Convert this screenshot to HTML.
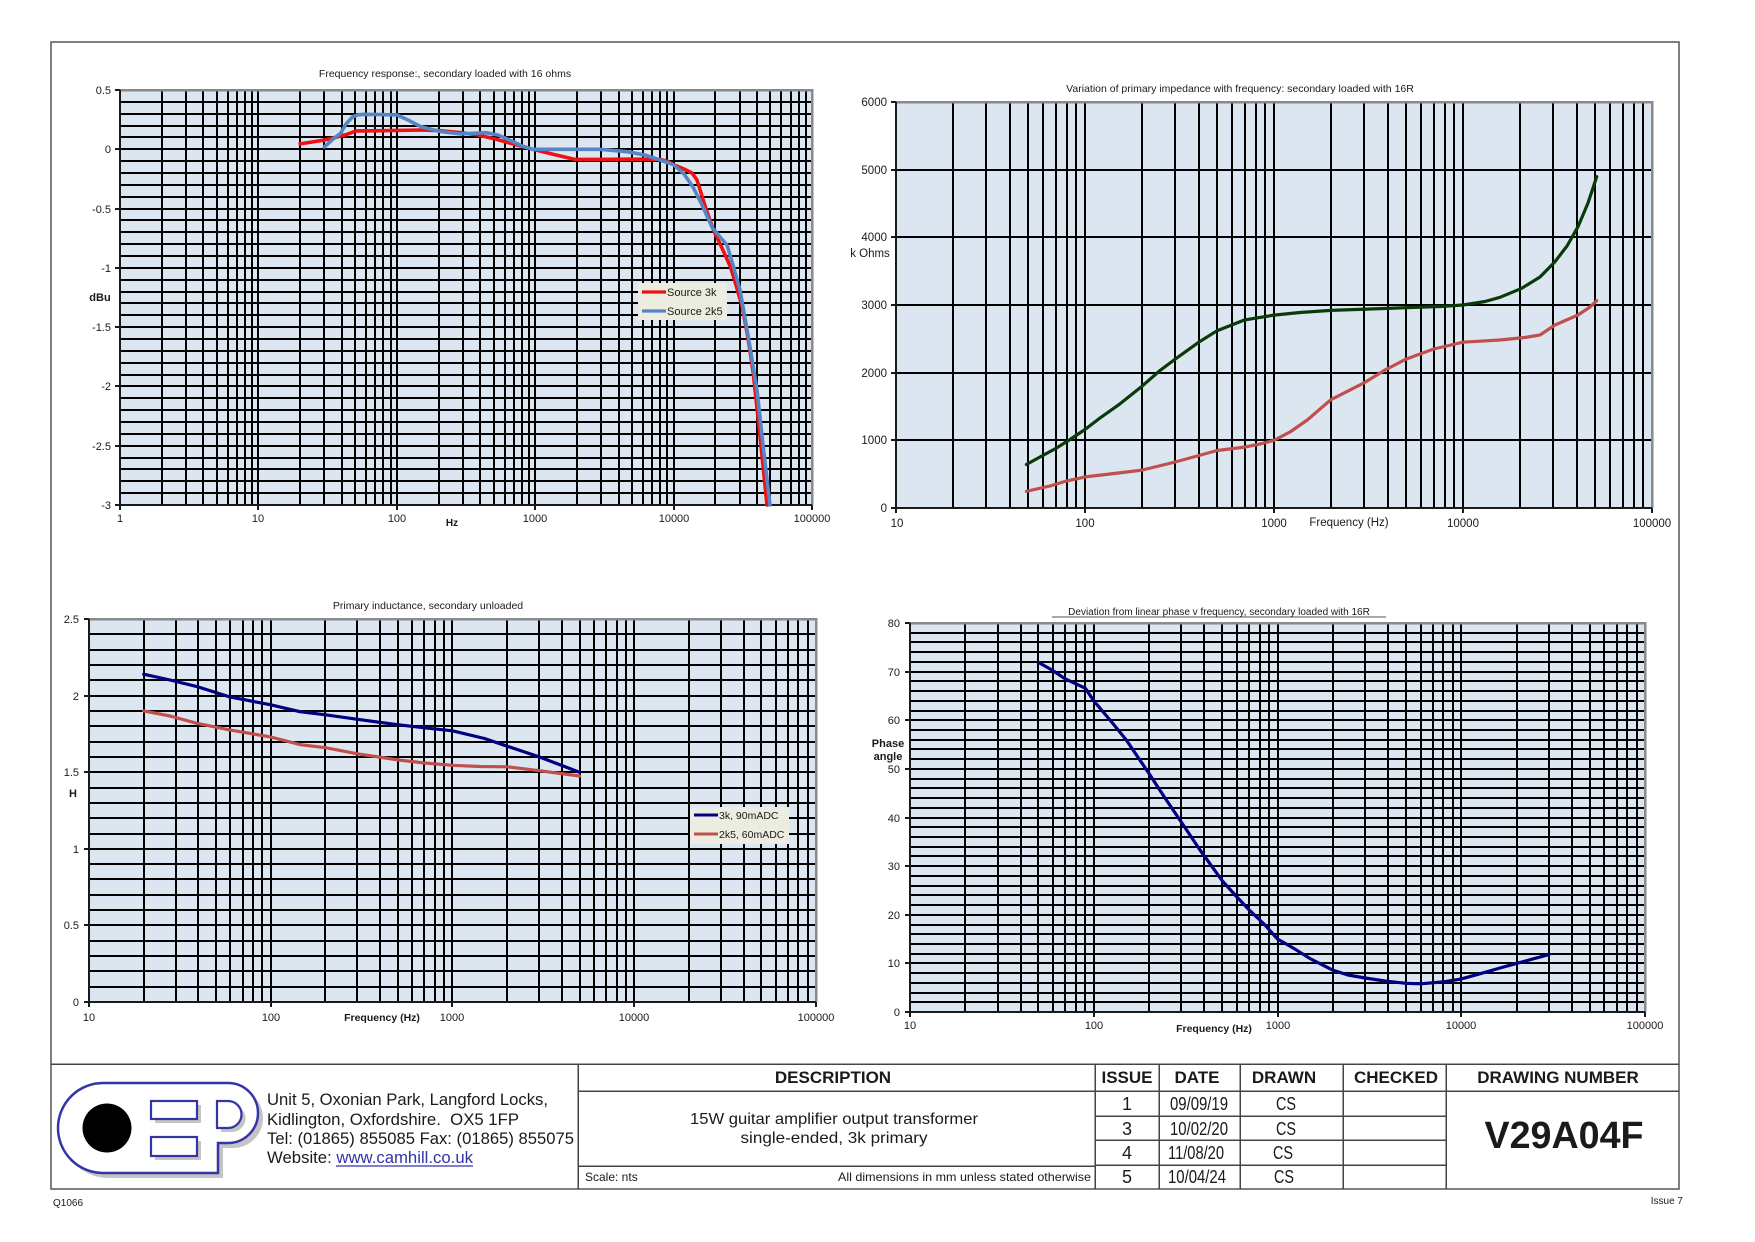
<!DOCTYPE html>
<html><head><meta charset="utf-8"><style>
html,body{margin:0;padding:0;background:#fff;}
svg{display:block;}
text{font-family:"Liberation Sans",Arial,sans-serif;fill:#1a1a1a;}
.t{font-size:11px;}
.ti{font-size:10.5px;}
.b{font-weight:bold;}
.g{stroke:#000;stroke-width:2;fill:none;shape-rendering:crispEdges;}
.ax{stroke:#1a1a1a;stroke-width:2;fill:none;shape-rendering:crispEdges;}
.bd{stroke:#8a8a8a;stroke-width:2.5;fill:none;shape-rendering:crispEdges;}
.tb{stroke:#444;stroke-width:1.5;fill:none;shape-rendering:crispEdges;}
.s{fill:none;stroke-linejoin:round;stroke-linecap:round;}
</style></head><body>
<svg width="1755" height="1242" viewBox="0 0 1755 1242" xmlns="http://www.w3.org/2000/svg">
<rect x="0" y="0" width="1755" height="1242" fill="#fff"/>
<!-- page border -->
<rect x="51" y="42" width="1628" height="1147" fill="none" stroke="#555" stroke-width="1.5"/>

<!-- ================= CHART 1 ================= -->
<text class="ti" x="445" y="77" text-anchor="middle">Frequency response:, secondary loaded with 16 ohms</text>
<rect x="120" y="90" width="692" height="415" fill="#dce6f1"/>
<path class="g" d="M162 90V505M186 90V505M203 90V505M217 90V505M228 90V505M237 90V505M245 90V505M252 90V505M258 90V505M300 90V505M324 90V505M342 90V505M355 90V505M366 90V505M375 90V505M383 90V505M391 90V505M397 90V505M439 90V505M463 90V505M480 90V505M494 90V505M505 90V505M514 90V505M522 90V505M529 90V505M535 90V505M577 90V505M601 90V505M619 90V505M632 90V505M643 90V505M652 90V505M660 90V505M667 90V505M674 90V505M715 90V505M740 90V505M757 90V505M770 90V505M781 90V505M791 90V505M799 90V505M806 90V505"/>
<path class="g" d="M120 102H812M120 114H812M120 126H812M120 137H812M120 149H812M120 161H812M120 173H812M120 185H812M120 197H812M120 209H812M120 220H812M120 232H812M120 244H812M120 256H812M120 268H812M120 280H812M120 292H812M120 303H812M120 315H812M120 327H812M120 339H812M120 351H812M120 363H812M120 375H812M120 386H812M120 398H812M120 410H812M120 422H812M120 434H812M120 446H812M120 458H812M120 469H812M120 481H812M120 493H812"/>
<path class="bd" d="M120 90H812V505"/>
<path class="ax" d="M120 90V505H812M115 90H120M115 149H120M115 209H120M115 268H120M115 327H120M115 386H120M115 446H120M115 505H120M120 505V510M258 505V510M397 505V510M535 505V510M674 505V510M812 505V510"/>
<g class="t" text-anchor="end">
<text x="111" y="94">0.5</text><text x="111" y="153">0</text><text x="111" y="213">-0.5</text><text x="111" y="272">-1</text><text x="111" y="331">-1.5</text><text x="111" y="390">-2</text><text x="111" y="450">-2.5</text><text x="111" y="509">-3</text>
</g>
<text class="t b" x="100" y="301" text-anchor="middle">dBu</text>
<g class="t" text-anchor="middle">
<text x="120" y="522">1</text><text x="258" y="522">10</text><text x="397" y="522">100</text><text x="535" y="522">1000</text><text x="674" y="522">10000</text><text x="812" y="522">100000</text>
</g>
<text class="t b" x="452" y="526" text-anchor="middle" style="font-size:10px">Hz</text>
<polyline class="s" stroke="#ee1111" stroke-width="3.6" points="300.1,143.9 312,142 325.7,139.8 344.7,135.1 356.3,130.9 382.6,130.7 421.2,130 440,130.7 460,132.5 478.8,135.1 498.2,139.8 515,144.5 532.7,149.3 552,154 574.6,159.4 600,159.4 630,159.2 660,159.4 668,161.5 673.6,164.7 684,169 692,173 697,180 700,189.6 706,209 713.4,229.9 722,248 730.4,266.7 736,285 742.3,307 748,338 753.3,373.4 760,436 767,505"/>
<polyline class="s" stroke="#5585c5" stroke-width="3.6" points="324.4,146.9 332,140 340.6,133.3 346,124 352.7,116.7 358,114.8 364.1,114.3 380,114.5 396.8,114.9 408,120 421.2,126.8 440,131.5 460,133.9 475,133.2 486.7,132.7 498.2,135.1 505,138 512.9,141.6 522,146 532.7,149.3 550,149.3 574.6,149.3 600,149.3 627,151.7 645,155 660,160 673.6,164.7 684,174 693,187 702,205 712,227 720,237 727,245 733,265 740,290 748,335 757,390 763,445 770,505"/>
<rect x="638" y="283" width="89" height="37" fill="#ecece0"/>
<line x1="642" y1="292" x2="666" y2="292" stroke="#ee1111" stroke-width="3.2"/>
<line x1="642" y1="311" x2="666" y2="311" stroke="#5585c5" stroke-width="3.2"/>
<text class="t" x="667" y="296">Source 3k</text>
<text class="t" x="667" y="315">Source 2k5</text>

<!-- ================= CHART 2 ================= -->
<text class="ti" x="1240" y="92" text-anchor="middle">Variation of primary impedance with frequency: secondary loaded with 16R</text>
<rect x="896" y="102" width="756" height="406" fill="#dce6f1"/>
<path class="g" d="M953 102V508M986 102V508M1010 102V508M1028 102V508M1043 102V508M1056 102V508M1067 102V508M1076 102V508M1085 102V508M1142 102V508M1175 102V508M1199 102V508M1217 102V508M1232 102V508M1245 102V508M1256 102V508M1265 102V508M1274 102V508M1331 102V508M1364 102V508M1388 102V508M1406 102V508M1421 102V508M1434 102V508M1445 102V508M1454 102V508M1463 102V508M1520 102V508M1553 102V508M1577 102V508M1595 102V508M1610 102V508M1623 102V508M1634 102V508M1643 102V508"/>
<path class="g" d="M896 170H1652M896 237H1652M896 305H1652M896 373H1652M896 440H1652"/>
<path class="bd" d="M896 102H1652V508"/>
<path class="ax" d="M896 102V508H1652M891 102H896M891 170H896M891 237H896M891 305H896M891 373H896M891 440H896M891 508H896M896 508V513M1085 508V513M1274 508V513M1463 508V513M1652 508V513"/>
<g text-anchor="end" style="font-size:11.5px">
<text x="887" y="106">6000</text><text x="887" y="174">5000</text><text x="887" y="241">4000</text><text x="887" y="309">3000</text><text x="887" y="377">2000</text><text x="887" y="444">1000</text><text x="887" y="512">0</text>
</g>
<text x="870" y="257" text-anchor="middle" style="font-size:11.5px">k Ohms</text>
<g text-anchor="middle" style="font-size:11.5px">
<text x="897" y="527">10</text><text x="1085" y="527">100</text><text x="1274" y="527">1000</text><text x="1463" y="527">10000</text><text x="1652" y="527">100000</text>
</g>
<text x="1349" y="526" text-anchor="middle" style="font-size:11.5px">Frequency (Hz)</text>
<polyline class="s" stroke="#0a3a0a" stroke-width="3.2" points="1026.4,464.5 1040,457 1055.7,448.5 1070,439.5 1085,429.5 1100,418 1118.3,405.1 1142,386.2 1160,370.5 1175.2,359.1 1198.8,342.2 1217.1,330.7 1244.7,319.9 1274,315.1 1300,312.5 1330.9,310.4 1370,309 1406.1,307.7 1440,306.5 1463,305 1485,301.5 1500,297.3 1521.7,288.3 1540,277 1555,261.7 1567,246 1578,226.7 1588,203 1596.7,176.7"/>
<polyline class="s" stroke="#c0504d" stroke-width="3.2" points="1026.4,491.3 1050,486 1066.7,480.9 1076.3,478.9 1085,476.9 1110,474 1142,470.1 1175.2,462 1217.1,450.5 1244.7,447.1 1260,444 1274,440.3 1290,432 1307.3,420 1330.9,399.7 1364.2,382.8 1385,370 1406.1,359.1 1433.7,349 1463,342.2 1500,340 1525,337.5 1540,335 1555,325 1578,315 1590,307 1596.7,300.7"/>

<!-- ================= CHART 3 ================= -->
<text class="ti" x="428" y="609" text-anchor="middle">Primary inductance, secondary unloaded</text>
<rect x="89" y="619" width="727" height="383" fill="#dce6f1"/>
<path class="g" d="M144 619V1002M176 619V1002M198 619V1002M216 619V1002M230 619V1002M243 619V1002M253 619V1002M262 619V1002M271 619V1002M325 619V1002M357 619V1002M380 619V1002M398 619V1002M412 619V1002M424 619V1002M435 619V1002M444 619V1002M452 619V1002M507 619V1002M539 619V1002M562 619V1002M580 619V1002M594 619V1002M606 619V1002M617 619V1002M626 619V1002M634 619V1002M689 619V1002M721 619V1002M744 619V1002M761 619V1002M776 619V1002M788 619V1002M798 619V1002M808 619V1002"/>
<path class="g" d="M89 987H816M89 971H816M89 956H816M89 941H816M89 925H816M89 910H816M89 895H816M89 879H816M89 864H816M89 849H816M89 834H816M89 818H816M89 803H816M89 788H816M89 772H816M89 757H816M89 742H816M89 726H816M89 711H816M89 696H816M89 680H816M89 665H816M89 650H816M89 634H816"/>
<path class="bd" d="M89 619H816V1002"/>
<path class="ax" d="M89 619V1002H816M84 619H89M84 696H89M84 772H89M84 849H89M84 925H89M84 1002H89M89 1002V1007M271 1002V1007M452 1002V1007M634 1002V1007M816 1002V1007"/>
<g class="t" text-anchor="end">
<text x="79" y="623">2.5</text><text x="79" y="700">2</text><text x="79" y="776">1.5</text><text x="79" y="853">1</text><text x="79" y="929">0.5</text><text x="79" y="1006">0</text>
</g>
<text class="t b" x="73" y="797" text-anchor="middle">H</text>
<g class="t" text-anchor="middle">
<text x="89" y="1021">10</text><text x="271" y="1021">100</text><text x="452" y="1021">1000</text><text x="634" y="1021">10000</text><text x="816" y="1021">100000</text>
</g>
<text class="b" x="382" y="1021" text-anchor="middle" style="font-size:10.5px">Frequency (Hz)</text>
<polyline class="s" stroke="#000080" stroke-width="3.2" points="143.7,674.2 170,680 196.4,686.4 230.4,697.1 270.75,704.8 300,711.7 325.5,714.8 357.5,719.3 397.8,724.7 424.4,727.8 452.5,730.8 484.5,738.5 507.2,746.2 539.2,756.9 579.5,772.2"/>
<polyline class="s" stroke="#c0504d" stroke-width="3.2" points="143.7,710.9 170,716 196.4,723.2 230.4,730.1 270.75,737 300,744.6 325.5,747.7 357.5,753.8 397.8,759.9 424.4,763 452.5,765.3 480,766.5 507.2,766.8 539.2,770.7 579.5,776"/>
<rect x="690" y="807" width="99" height="37" fill="#ecece0"/>
<line x1="694" y1="815" x2="718" y2="815" stroke="#000080" stroke-width="3"/>
<line x1="694" y1="834" x2="718" y2="834" stroke="#c0504d" stroke-width="3"/>
<text x="719" y="819" style="font-size:10.5px">3k, 90mADC</text>
<text x="719" y="838" style="font-size:10.5px">2k5, 60mADC</text>

<!-- ================= CHART 4 ================= -->
<text x="1219" y="615" text-anchor="middle" style="font-size:10px">Deviation from linear phase v frequency, secondary loaded with 16R</text>
<line x1="1052" y1="617" x2="1386" y2="617" stroke="#1a1a1a" stroke-width="0.8"/>
<rect x="910" y="623" width="735" height="389" fill="#dce6f1"/>
<path class="g" d="M965 623V1012M998 623V1012M1021 623V1012M1038 623V1012M1053 623V1012M1065 623V1012M1076 623V1012M1085 623V1012M1094 623V1012M1149 623V1012M1181 623V1012M1204 623V1012M1222 623V1012M1237 623V1012M1249 623V1012M1260 623V1012M1269 623V1012M1278 623V1012M1333 623V1012M1365 623V1012M1388 623V1012M1406 623V1012M1421 623V1012M1433 623V1012M1443 623V1012M1453 623V1012M1461 623V1012M1517 623V1012M1549 623V1012M1572 623V1012M1590 623V1012M1604 623V1012M1617 623V1012M1627 623V1012M1637 623V1012"/>
<path class="g" d="M910 1002H1645M910 993H1645M910 983H1645M910 973H1645M910 963H1645M910 954H1645M910 944H1645M910 934H1645M910 925H1645M910 915H1645M910 905H1645M910 895H1645M910 886H1645M910 876H1645M910 866H1645M910 856H1645M910 847H1645M910 837H1645M910 827H1645M910 818H1645M910 808H1645M910 798H1645M910 788H1645M910 779H1645M910 769H1645M910 759H1645M910 749H1645M910 740H1645M910 730H1645M910 720H1645M910 711H1645M910 701H1645M910 691H1645M910 681H1645M910 672H1645M910 662H1645M910 652H1645M910 642H1645M910 633H1645"/>
<path class="bd" d="M910 623H1645V1012"/>
<path class="ax" d="M910 623V1012H1645M905 623H910M905 672H910M905 720H910M905 769H910M905 818H910M905 866H910M905 915H910M905 963H910M905 1012H910M910 1012V1017M1094 1012V1017M1278 1012V1017M1461 1012V1017M1645 1012V1017"/>
<g class="t" text-anchor="end">
<text x="900" y="627">80</text><text x="900" y="676">70</text><text x="900" y="724">60</text><text x="900" y="773">50</text><text x="900" y="822">40</text><text x="900" y="870">30</text><text x="900" y="919">20</text><text x="900" y="967">10</text><text x="900" y="1016">0</text>
</g>
<text class="t b" x="888" y="747" text-anchor="middle">Phase</text>
<text class="t b" x="888" y="760" text-anchor="middle">angle</text>
<g class="t" text-anchor="middle">
<text x="910" y="1029">10</text><text x="1094" y="1029">100</text><text x="1278" y="1029">1000</text><text x="1461" y="1029">10000</text><text x="1645" y="1029">100000</text>
</g>
<text class="b" x="1214" y="1032" text-anchor="middle" style="font-size:10.5px">Frequency (Hz)</text>
<polyline class="s" stroke="#000080" stroke-width="3.2" points="1038.4,662.4 1052,670 1065.3,678.9 1085.3,688.2 1093.75,700.8 1110,720 1126.1,739.7 1149.1,773.7 1165,798 1181.5,822.4 1200,850 1222.2,880.7 1236,896 1249.1,909.9 1264.5,924.5 1277.5,939 1295.3,949.3 1309.9,958.5 1332.8,970.2 1348,975 1365.2,978 1385,981 1405.9,983.3 1420.5,983.8 1443.4,981.9 1461.25,978.9 1480.7,973.6 1500,968 1516.6,963.4 1549,954.6"/>

<!-- ================= TITLE BLOCK ================= -->
<path class="tb" d="M51 1064H1679M578 1064V1189M578 1091H1679M578 1166H1095M1095 1064V1189M1159 1064V1189M1240 1064V1189M1343 1064V1189M1446 1064V1189M1095 1116H1446M1095 1140H1446M1095 1165H1446"/>
<g class="b" text-anchor="middle" style="font-size:17px">
<text x="833" y="1083">DESCRIPTION</text>
<text x="1127" y="1083">ISSUE</text>
<text x="1197" y="1083">DATE</text>
<text x="1284" y="1083">DRAWN</text>
<text x="1396" y="1083">CHECKED</text>
<text x="1558" y="1083">DRAWING NUMBER</text>
</g>
<g text-anchor="middle" style="font-size:18px">
<text x="1127" y="1110">1</text><text x="1127" y="1135">3</text><text x="1127" y="1159">4</text><text x="1127" y="1183">5</text>
<text x="1199" y="1110" textLength="58" lengthAdjust="spacingAndGlyphs">09/09/19</text>
<text x="1199" y="1135" textLength="58" lengthAdjust="spacingAndGlyphs">10/02/20</text>
<text x="1196" y="1159" textLength="56" lengthAdjust="spacingAndGlyphs">11/08/20</text>
<text x="1197" y="1183" textLength="58" lengthAdjust="spacingAndGlyphs">10/04/24</text>
<text x="1286" y="1110" textLength="20" lengthAdjust="spacingAndGlyphs">CS</text>
<text x="1286" y="1135" textLength="20" lengthAdjust="spacingAndGlyphs">CS</text>
<text x="1283" y="1159" textLength="20" lengthAdjust="spacingAndGlyphs">CS</text>
<text x="1284" y="1183" textLength="20" lengthAdjust="spacingAndGlyphs">CS</text>
</g>
<text class="b" x="1564" y="1148" text-anchor="middle" style="font-size:38px" textLength="159" lengthAdjust="spacingAndGlyphs">V29A04F</text>
<g text-anchor="middle" style="font-size:16px">
<text x="834" y="1124" textLength="288" lengthAdjust="spacingAndGlyphs">15W guitar amplifier output transformer</text>
<text x="834" y="1143" textLength="187" lengthAdjust="spacingAndGlyphs">single-ended, 3k primary</text>
</g>
<text x="585" y="1181" style="font-size:12px">Scale: nts</text>
<text x="1091" y="1181" text-anchor="end" style="font-size:12px" textLength="253" lengthAdjust="spacingAndGlyphs">All dimensions in mm unless stated otherwise</text>

<!-- address -->
<g style="font-size:16.6px">
<text x="267" y="1105" textLength="281" lengthAdjust="spacingAndGlyphs">Unit 5, Oxonian Park, Langford Locks,</text>
<text x="267" y="1125" textLength="252" lengthAdjust="spacingAndGlyphs">Kidlington, Oxfordshire.&#160; OX5 1FP</text>
<text x="267" y="1144" textLength="307" lengthAdjust="spacingAndGlyphs">Tel: (01865) 855085 Fax: (01865) 855075</text>
<text x="267" y="1163" textLength="206" lengthAdjust="spacingAndGlyphs">Website: <tspan fill="#3333aa">www.camhill.co.uk</tspan></text>
</g>
<line x1="336" y1="1166" x2="473" y2="1166" stroke="#3333aa" stroke-width="1.2"/>

<!-- logo -->
<path d="M103,1083 H228 A30,30 0 0 1 228,1143 H218 V1173 H103 A45,45 0 0 1 103,1083 Z" transform="translate(5,5)" fill="#c4c4c4"/>
<path d="M103,1083 H228 A30,30 0 0 1 228,1143 H218 V1173 H103 A45,45 0 0 1 103,1083 Z" fill="#fff" stroke="#3535a5" stroke-width="2.5"/>
<circle cx="107" cy="1128" r="24.5" fill="#000"/>
<rect x="155" y="1105" width="46" height="18" fill="#c4c4c4"/>
<rect x="151" y="1101" width="46" height="18" fill="#fff" stroke="#3535a5" stroke-width="2.2"/>
<rect x="155" y="1141" width="46" height="19" fill="#c4c4c4"/>
<rect x="151" y="1137" width="46" height="19" fill="#fff" stroke="#3535a5" stroke-width="2.2"/>
<path d="M217,1101 H228 A13.5,13.5 0 0 1 228,1128 H217 Z" transform="translate(4,4)" fill="#c4c4c4"/>
<path d="M217,1101 H228 A13.5,13.5 0 0 1 228,1128 H217 Z" fill="#fff" stroke="#3535a5" stroke-width="2.2"/>

<text x="53" y="1206" style="font-size:10px">Q1066</text>
<text x="1683" y="1204" text-anchor="end" style="font-size:10px">Issue 7</text>
</svg>
</body></html>
